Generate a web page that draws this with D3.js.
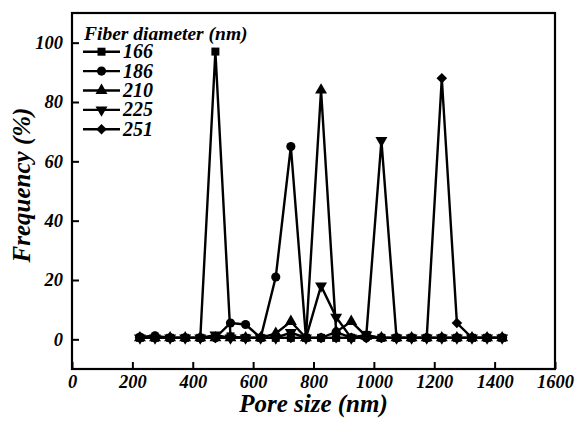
<!DOCTYPE html>
<html>
<head>
<meta charset="utf-8">
<script src="https://cdn.jsdelivr.net/npm/d3@7"></script>
<style>
  body { margin: 0; background: #fff; }
</style>
</head>
<body>
<div id="chart"></div>
<script>
// data
var poreSize = [225, 275, 325, 375, 425, 475, 525, 575, 625, 675, 725, 775, 825,
    875, 925, 975, 1025, 1075, 1125, 1175, 1225, 1275, 1325, 1375, 1425];

var fiber166 = [0.5, 0.5, 0.5, 0.5, 0.5, 97, 1, 0.5, 0.5, 0.5, 0.5, 0.5, 0.5,
    0.5, 0.5, 1.5, 0.5, 0.5, 0.5, 0.5, 0.5, 0.5, 0.5, 0.5, 0.5];
var fiber186 = [0.8, 1.2, 0.5, 0.5, 0.5, 0.5, 5.5, 5, 0.5, 21, 65, 0.5, 0.5,
    2.5, 0.5, 0.5, 0.5, 0.5, 0.5, 0.5, 0.5, 0.5, 0.5, 0.5, 0.5];
var fiber210 = [0.5, 0.5, 0.5, 0.5, 0.5, 0.5, 0.5, 0.5, 0.5, 2, 6, 0.5, 84,
    2.5, 6, 1, 0.5, 0.5, 0.5, 0.5, 0.5, 0.5, 0.5, 0.5, 0.5];
var fiber225 = [0.5, 0.5, 0.5, 0.5, 0.5, 1.5, 0.5, 0.5, 0.5, 0.5, 2.3, 0.5, 18,
    7.5, 0.5, 1.5, 67, 0.5, 0.5, 0.5, 0.5, 0.5, 0.5, 0.5, 0.5];
var fiber251 = [0.5, 0.5, 0.5, 0.5, 0.5, 0.5, 0.5, 0.5, 0.5, 0.5, 0.5, 0.5, 0.5,
    0.5, 0.5, 0.5, 0.5, 0.5, 0.5, 0.5, 88, 5.5, 0.5, 0.5, 0.5];

var seriesNames = ["166", "186", "210", "225", "251"];
var seriesValues = [fiber166, fiber186, fiber210, fiber225, fiber251];

var xTicks = [0, 200, 400, 600, 800, 1000, 1200, 1400, 1600];
var yTicks = [0, 20, 40, 60, 80, 100];

var serif = '"Liberation Serif", Tinos, "Times New Roman", "DejaVu Serif", serif';

// svg setup
var svgWidth = 577;
var svgHeight = 421;

var margin = { top: 13, right: 22, bottom: 52, left: 72 };
var width = svgWidth - margin.left - margin.right;
var height = svgHeight - margin.top - margin.bottom;

var svg = d3.select("#chart")
    .append("svg")
    .attr("width", svgWidth)
    .attr("height", svgHeight)
    .attr("font-family", serif)
    .attr("font-weight", "bold")
    .attr("font-style", "italic");

var chartGroup = svg.append("g")
    .attr("transform", `translate(${margin.left}, ${margin.top})`);

var xScale = d3.scaleLinear().domain([0, 1600]).range([0, width]);
var yScale = d3.scaleLinear().domain([-10, 110]).range([height, 0]);

// axes (ticks point inward)
var bottomAxis = d3.axisBottom(xScale).tickValues(xTicks).tickFormat(d3.format("d"))
    .tickSizeInner(-7).tickSizeOuter(0).tickPadding(6);
var leftAxis = d3.axisLeft(yScale).tickValues(yTicks).tickFormat(d3.format("d"))
    .tickSizeInner(-7).tickSizeOuter(0).tickPadding(9);

var xAxis = chartGroup.append("g")
    .attr("transform", `translate(0, ${height})`)
    .call(bottomAxis);
var yAxis = chartGroup.append("g")
    .call(leftAxis);

[xAxis, yAxis].forEach(function (ax) {
    ax.attr("font-family", serif).attr("font-size", null);
    ax.select(".domain").remove();
    ax.selectAll("line").attr("stroke", "#000").attr("stroke-width", 2);
    ax.selectAll("text")
        .attr("fill", "#000")
        .style("font-family", serif)
        .style("font-weight", "bold")
        .style("font-style", "italic")
        .style("font-size", "18.5px");
});

// frame
chartGroup.append("rect")
    .attr("x", 0)
    .attr("y", 0)
    .attr("width", width)
    .attr("height", height)
    .attr("fill", "none")
    .attr("stroke", "#000")
    .attr("stroke-width", 2.2);

// markers
var symbols = [
    { type: d3.symbolSquare, size: 64, rot: 0 },
    { type: d3.symbolCircle, size: 66, rot: 0 },
    { type: d3.symbolTriangle, size: 62, rot: 0 },
    { type: d3.symbolTriangle, size: 62, rot: 180 },
    { type: d3.symbolSquare, size: 56, rot: 45 }
];

var line = d3.line()
    .x((d, i) => xScale(poreSize[i]))
    .y(d => yScale(d));

seriesValues.forEach(function (vals, s) {
    var g = chartGroup.append("g");
    g.append("path")
        .datum(vals)
        .attr("d", line)
        .attr("fill", "none")
        .attr("stroke", "#000")
        .attr("stroke-width", 2.4)
        .attr("stroke-linejoin", "miter");
    g.selectAll("path.mk")
        .data(vals)
        .enter()
        .append("path")
        .attr("class", "mk")
        .attr("d", d3.symbol().type(symbols[s].type).size(symbols[s].size))
        .attr("transform", (d, i) => `translate(${xScale(poreSize[i])}, ${yScale(d)}) rotate(${symbols[s].rot})`)
        .attr("fill", "#000");
});

// legend
var legend = chartGroup.append("g")
    .attr("transform", "translate(11, 0)");

legend.append("text")
    .attr("x", 1)
    .attr("y", 27)
    .style("font-size", "19.5px")
    .text("Fiber diameter (nm)");

seriesNames.forEach(function (name, s) {
    var yy = 38.7 + s * 19.4;
    legend.append("line")
        .attr("x1", 0)
        .attr("x2", 37)
        .attr("y1", yy)
        .attr("y2", yy)
        .attr("stroke", "#000")
        .attr("stroke-width", 2.4);
    legend.append("path")
        .attr("d", d3.symbol().type(symbols[s].type).size(symbols[s].size))
        .attr("transform", `translate(18.5, ${yy}) rotate(${symbols[s].rot})`)
        .attr("fill", "#000");
    legend.append("text")
        .attr("x", 40)
        .attr("y", yy + 6.5)
        .style("font-size", "20px")
        .text(name);
});

// axis titles
svg.append("text")
    .attr("x", margin.left + width / 2)
    .attr("y", 412)
    .attr("text-anchor", "middle")
    .style("font-size", "25px")
    .text("Pore size (nm)");

svg.append("text")
    .attr("transform", "rotate(-90)")
    .attr("x", -185)
    .attr("y", 30)
    .attr("text-anchor", "middle")
    .style("font-size", "25px")
    .text("Frequency (%)");
</script>
</body>
</html>
